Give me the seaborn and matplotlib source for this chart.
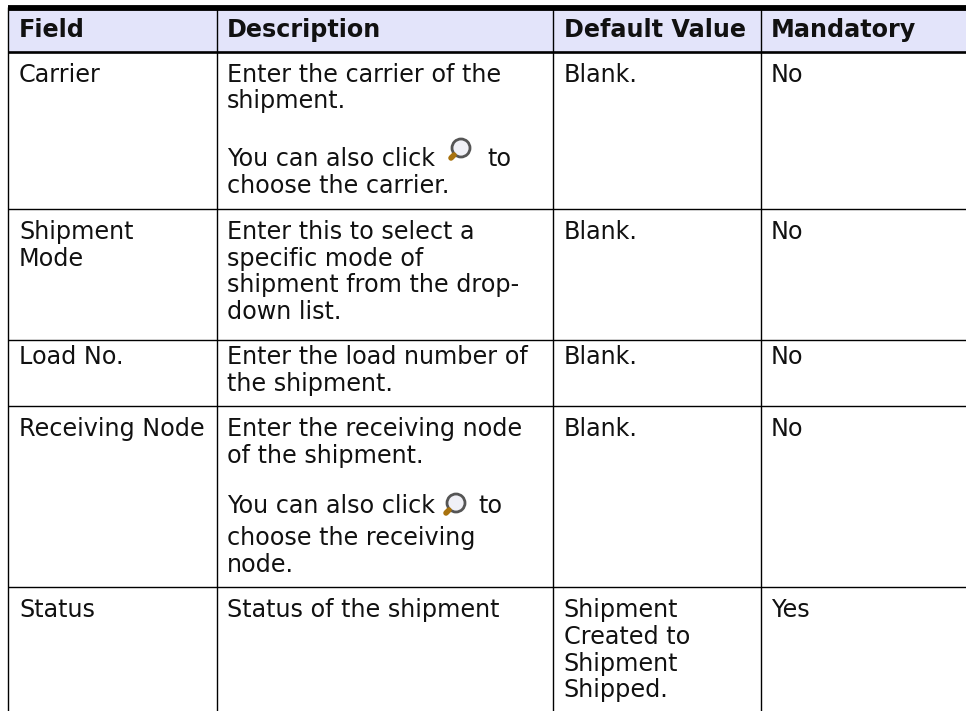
import numpy as np
import seaborn as sns
import matplotlib.pyplot as plt
from matplotlib.colors import ListedColormap
from matplotlib.patches import Circle

# textos de la tabla
headers = ["Field", "Description", "Default Value", "Mandatory"]
campos = [["Carrier"], ["Shipment", "Mode"], ["Load No."], ["Receiving Node"], ["Status"]]
descripciones = [
    ["Enter the carrier of the", "shipment.", "You can also click", "choose the carrier."],
    ["Enter this to select a", "specific mode of", "shipment from the drop-", "down list."],
    ["Enter the load number of", "the shipment."],
    ["Enter the receiving node", "of the shipment.", "You can also click", "choose the receiving", "node."],
    ["Status of the shipment"],
]
defaults = [["Blank."], ["Blank."], ["Blank."], ["Blank."], ["Shipment", "Created to", "Shipment", "Shipped."]]
mandatory = ["No", "No", "No", "No", "Yes"]

W, H = 966, 711
col_x = [8, 216.5, 552.5, 760.5]
text_x = [19, 227, 563.5, 771]
row_y = [52, 209, 340, 406, 587]
first_base = [82, 239, 364, 436, 617]
desc_base = [[82, 108, 166, 193], [239, 266, 292, 319], [364, 391], [436, 463, 513, 545, 572], [617]]
default_base = [617, 644, 671, 697]
to_xy = [(487, 166), (478, 513)]
icon_xy = [(461, 148), (456, 503)]
FS = 17.2
ink = "#111111"

sns.set_theme(style="white")
fig = plt.figure(figsize=(W / 100, H / 100), dpi=100)
ax = fig.add_axes([0, 0, 1, 1])
ax.set_xlim(0, W)
ax.set_ylim(H, 0)
ax.axis("off")

# banda del encabezado
hdr = fig.add_axes([8 / W, 1 - 52 / H, (W - 8) / W, 42 / H])
sns.heatmap(np.zeros((1, 1)), ax=hdr, cmap=ListedColormap(["#E3E4FA"]), cbar=False,
            xticklabels=False, yticklabels=False)
hdr.set_zorder(0)
ax.set_zorder(1)
ax.patch.set_alpha(0)

# reglas
ax.hlines(7.8, 8, W, color="black", lw=4.2)
ax.hlines(52, 8, W, color="black", lw=1.9)
ax.hlines(row_y[1:], 8, W, color="black", lw=1)
ax.vlines(col_x, 7, H, color="black", lw=1)


def texto(x, y, t, **kw):
    ax.text(x, y, t, fontsize=FS, color=ink, va="baseline", ha="left", **kw)


# encabezado
for x, h in zip(text_x, headers):
    texto(x, 37, h, fontweight="bold")

# filas
for i in range(5):
    for j, t in enumerate(campos[i]):
        texto(text_x[0], first_base[i] + 27 * j, t)
    for t, yy in zip(descripciones[i], desc_base[i]):
        texto(text_x[1], yy, t)
    bases = default_base if len(defaults[i]) > 1 else [first_base[i]]
    for t, yy in zip(defaults[i], bases):
        texto(text_x[2], yy, t)
    texto(text_x[3], first_base[i], mandatory[i])

# lupas
for (tx, ty), (cx, cy) in zip(to_xy, icon_xy):
    texto(tx, ty, "to")
    ax.plot([cx - 10, cx - 7], [cy + 10, cy + 7], color="#A8720E", lw=4, solid_capstyle="round")
    ax.add_patch(Circle((cx, cy), 9, facecolor="#F0F0F6", edgecolor="#555555", lw=2))

fig.savefig("out.png", dpi=100)
